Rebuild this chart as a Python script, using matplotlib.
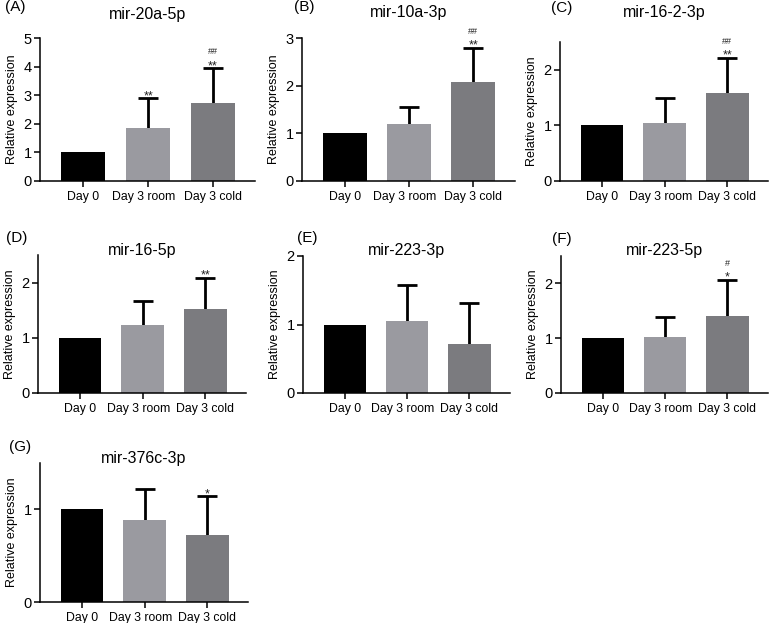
import numpy as np
import matplotlib
matplotlib.use("Agg")
import matplotlib.pyplot as plt
import matplotlib.transforms as mtransforms

plt.rcParams['font.family'] = ['Liberation Sans', 'DejaVu Sans']

groups = ['Day 0', 'Day 3 room', 'Day 3 cold']
colors = ['#000000', '#9a9aa0', '#7b7b7f']

labels = ['(A)', '(B)', '(C)', '(D)', '(E)', '(F)', '(G)']
titles = ['mir-20a-5p', 'mir-10a-3p', 'mir-16-2-3p', 'mir-16-5p',
          'mir-223-3p', 'mir-223-5p', 'mir-376c-3p']

mean_a = [1.0, 1.86, 2.73]
sd_a = [0.0, 1.03, 1.21]
mean_b = [1.0, 1.20, 2.07]
sd_b = [0.0, 0.35, 0.72]
mean_c = [1.0, 1.04, 1.58]
sd_c = [0.0, 0.46, 0.63]
mean_d = [1.0, 1.24, 1.53]
sd_d = [0.0, 0.43, 0.55]
mean_e = [0.99, 1.05, 0.71]
sd_e = [0.0, 0.52, 0.61]
mean_f = [1.0, 1.03, 1.41]
sd_f = [0.0, 0.36, 0.66]
mean_g = [1.0, 0.89, 0.72]
sd_g = [0.0, 0.33, 0.42]

means = [mean_a, mean_b, mean_c, mean_d, mean_e, mean_f, mean_g]
sds = [sd_a, sd_b, sd_c, sd_d, sd_e, sd_f, sd_g]

# significance vs Day 0 (*) and vs Day 3 room (#)
stars = [['', '**', '**'],
         ['', '', '**'],
         ['', '', '**'],
         ['', '', '**'],
         ['', '', ''],
         ['', '', '*'],
         ['', '', '*']]
hashes = [['', '', '##'],
          ['', '', '##'],
          ['', '', '##'],
          ['', '', ''],
          ['', '', ''],
          ['', '', '#'],
          ['', '', '']]

ymax = [5, 3, 2.5, 2.5, 2, 2.5, 1.5]
yticks = [[0, 1, 2, 3, 4, 5], [0, 1, 2, 3], [0, 1, 2], [0, 1, 2],
          [0, 1, 2], [0, 1, 2], [0, 1]]

W, H = 770, 623
# axes boxes in pixels: left, top, right, bottom
boxes = [(40, 38, 255, 181), (302, 38, 515, 181), (560, 42, 768, 181),
         (38, 255, 246, 393), (303, 256, 510, 393), (561, 256, 768, 393),
         (40, 463, 248, 602)]
# panel label and title positions (pixels)
lab_pos = [(5, 7), (294, 7), (551, 8), (6, 238), (297, 238), (552, 239), (9, 447)]
title_y = [15, 12, 12, 250, 250, 250, 458]

fig = plt.figure(figsize=(W / 100, H / 100), dpi=100)
shift_left = mtransforms.ScaledTranslation(-4 / 100, 0, fig.dpi_scale_trans)

x = np.arange(len(groups))
for k in range(7):
    l, t, r, b = boxes[k]
    ax = fig.add_axes([l / W, 1 - b / H, (r - l) / W, (b - t) / H])
    ax.bar(x, means[k], width=0.68, color=colors, zorder=2)
    for i in range(3):
        top = means[k][i] + sds[k][i]
        if sds[k][i] > 0:
            ax.errorbar(x[i], means[k][i], yerr=sds[k][i], fmt='none',
                        ecolor='black', elinewidth=2, capsize=7.5,
                        capthick=2, zorder=1)
        if stars[k][i]:
            ax.annotate(stars[k][i], (x[i], top),
                        xytext=(0, -0.5), textcoords='offset points',
                        ha='center', va='baseline', fontsize=9,
                        color='#222222')
        if hashes[k][i]:
            ax.annotate(hashes[k][i], (x[i], top),
                        xytext=(0, 10), textcoords='offset points',
                        ha='center', va='baseline', fontsize=6.5,
                        color='#222222')
    ax.set_xlim(-0.67, 2.65)
    ax.set_ylim(0, ymax[k])
    ax.set_yticks(yticks[k])
    ax.set_xticks(x)
    ax.set_xticklabels(groups, fontsize=8.8)
    ax.tick_params(axis='y', labelsize=10.5, length=4, width=1.1, pad=2)
    ax.tick_params(axis='x', length=4, width=1.1, pad=3.5)
    tl = ax.get_xticklabels()[1]
    tl.set_transform(tl.get_transform() + shift_left)
    ax.set_ylabel('Relative expression', fontsize=9, labelpad=4)
    for s in ['top', 'right']:
        ax.spines[s].set_visible(False)
    for s in ['left', 'bottom']:
        ax.spines[s].set_linewidth(1.1)
    fig.text((l + r) / 2 / W, 1 - title_y[k] / H, titles[k],
             ha='center', va='center', fontsize=11.5)
    fig.text(lab_pos[k][0] / W, 1 - lab_pos[k][1] / H, labels[k],
             ha='left', va='center', fontsize=11)

fig.savefig('out.png', dpi=100)
